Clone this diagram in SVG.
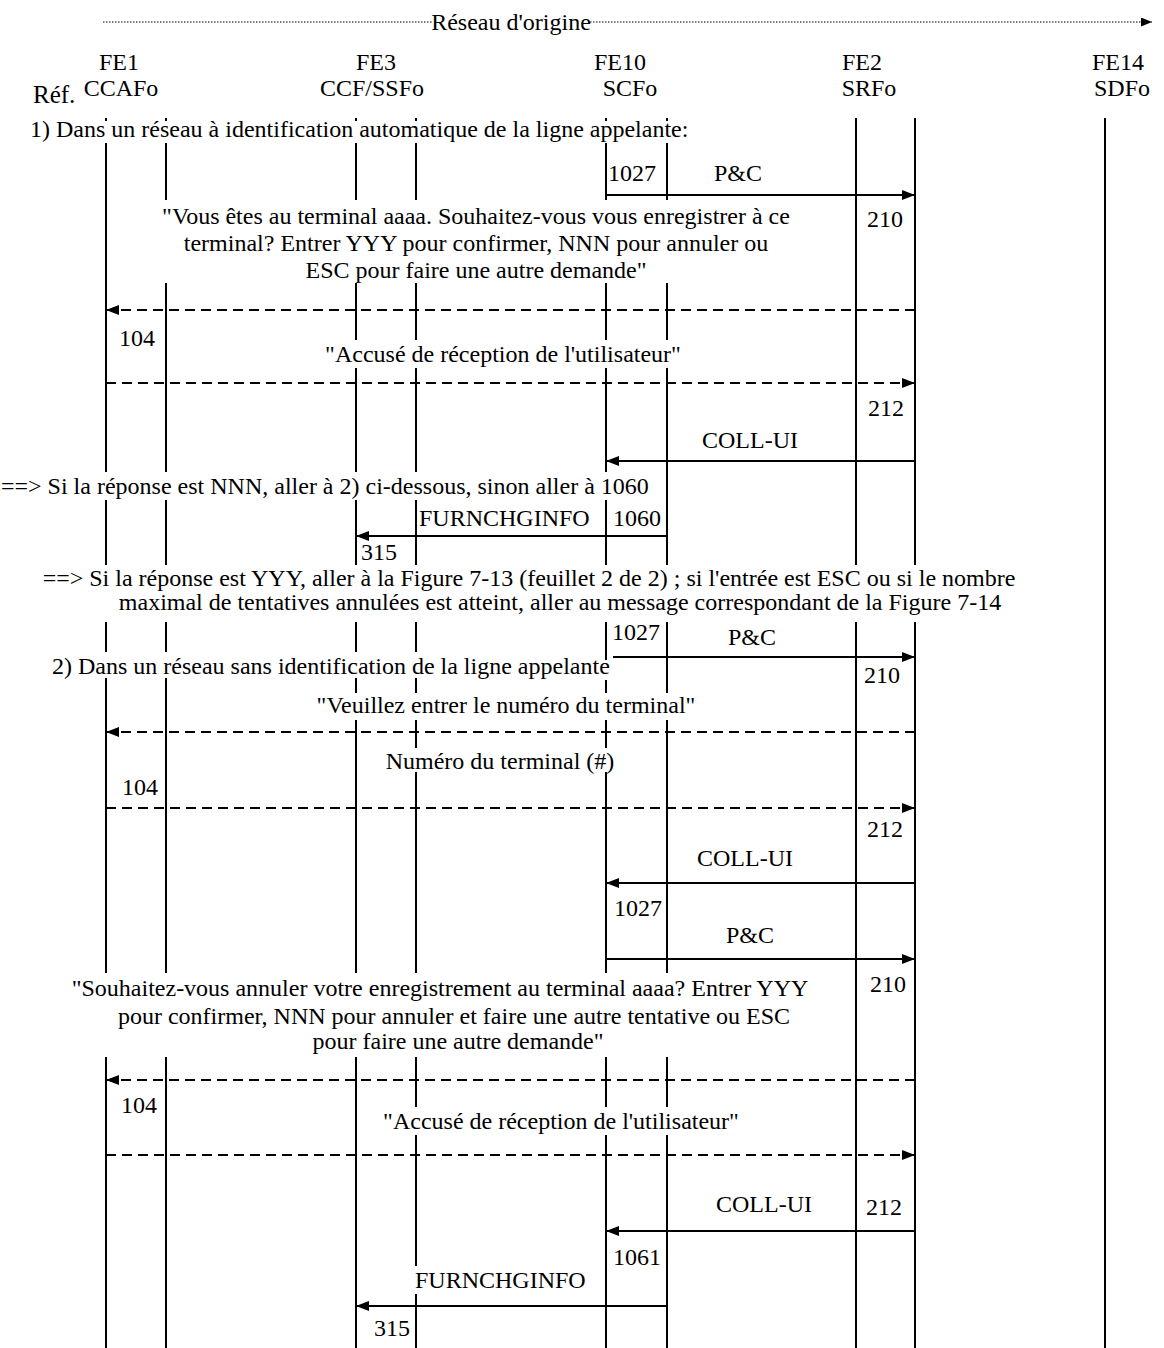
<svg xmlns="http://www.w3.org/2000/svg" width="1164" height="1348" viewBox="0 0 1164 1348">
<style>
text{font-family:"Liberation Serif","Times New Roman",serif;font-size:24px;fill:#000}
.m{text-anchor:middle}
.ll{stroke:#000;stroke-width:2;fill:none}
.msg{stroke:#000;stroke-width:2;fill:none;marker-end:url(#ah)}
.d{stroke-dasharray:10,6}
.dot{stroke:#000;stroke-width:1.2;stroke-dasharray:1.5,1.5;fill:none}
</style>
<defs>
<marker id="ah" markerUnits="userSpaceOnUse" markerWidth="14" markerHeight="12" refX="13" refY="5" orient="auto">
<path d="M0,0 L13,5 L0,10 z" fill="#000"/>
</marker>
<marker id="ahs" markerUnits="userSpaceOnUse" markerWidth="12" markerHeight="10" refX="11" refY="4.5" orient="auto">
<path d="M0,0 L11,4.5 L0,9 z" fill="#000"/>
</marker>
</defs>
<rect width="1164" height="1348" fill="#fff"/>
<g id="header">
<path class="dot" d="M103,22 H432"/>
<path class="dot" d="M590,22 H1152" marker-end="url(#ahs)"/>
<text class="m" x="511" y="30">Réseau d'origine</text>
<text x="33" y="103" style="font-size:25px">Réf.</text>
</g>
<g id="fe1"><text class="m" x="119" y="70">FE1</text><text class="m" x="121" y="96">CCAFo</text>
<path class="ll" d="M106,118V121M106,143V472M106,500V565M106,622V652M106,678V973M106,1057V1348M166,118V121M166,143V200M166,283V472M166,500V565M166,622V652M166,678V973M166,1057V1348"/></g>
<g id="fe3"><text class="m" x="376" y="70">FE3</text><text class="m" x="372" y="96">CCF/SSFo</text>
<path class="ll" d="M356,118V121M356,143V200M356,283V340M356,368V472M356,500V565M356,622V652M356,678V693M356,720V973M356,1057V1348M416,118V121M416,143V200M416,283V340M416,368V472M416,500V565M416,622V652M416,678V693M416,720V748M416,772V973M416,1057V1107M416,1135V1266M416,1294V1348"/></g>
<g id="fe10"><text class="m" x="620" y="70">FE10</text><text class="m" x="630" y="96">SCFo</text>
<path class="ll" d="M606,118V121M606,143V200M606,283V340M606,368V472M606,500V565M606,622V660M606,680V693M606,720V748M606,772V973M606,1057V1107M606,1135V1348M667,118V121M667,143V200M667,283V340M667,368V565M667,622V693M667,720V973M667,1057V1107M667,1135V1348"/></g>
<g id="fe2"><text class="m" x="862" y="70">FE2</text><text class="m" x="869" y="96">SRFo</text>
<path class="ll" d="M856,118V565M856,622V1348M915,118V565M915,622V1348"/></g>
<g id="fe14"><text class="m" x="1118" y="70">FE14</text><text class="m" x="1122" y="96">SDFo</text>
<path class="ll" d="M1105,118V1348"/></g>
<g id="connectors">
<path class="msg" d="M606,195H915"/>
<path class="msg d" d="M915,310H106"/>
<path class="msg d" d="M106,383H915"/>
<path class="msg" d="M915,461H606"/>
<path class="msg" d="M667,536H356"/>
<path class="msg" d="M613,657H915"/>
<path class="msg d" d="M915,732H106"/>
<path class="msg d" d="M106,808H915"/>
<path class="msg" d="M915,883H606"/>
<path class="msg" d="M606,959H915"/>
<path class="msg d" d="M915,1080H106"/>
<path class="msg d" d="M106,1155H915"/>
<path class="msg" d="M915,1231H606"/>
<path class="msg" d="M667,1306H356"/>
</g>
<g id="labels">
<text x="30" y="137">1) Dans un réseau à identification automatique de la ligne appelante:</text>
<text x="608" y="181">1027</text>
<text class="m" x="738" y="181">P&amp;C</text>
<text class="m" x="885" y="227">210</text>
<text class="m" x="476" y="224">"Vous êtes au terminal aaaa. Souhaitez-vous vous enregistrer à ce</text>
<text class="m" x="476" y="251">terminal? Entrer YYY pour confirmer, NNN pour annuler ou</text>
<text class="m" x="476" y="278">ESC pour faire une autre demande"</text>
<text class="m" x="137" y="346">104</text>
<text class="m" x="503" y="362">"Accusé de réception de l'utilisateur"</text>
<text class="m" x="886" y="416">212</text>
<text class="m" x="750" y="448">COLL-UI</text>
<text x="1" y="494">==&gt; Si la réponse est NNN, aller à 2) ci-dessous, sinon aller à 1060</text>
<text x="419" y="526">FURNCHGINFO</text>
<text x="613" y="526">1060</text>
<text x="361" y="560">315</text>
<text class="m" x="529" y="586">==&gt; Si la réponse est YYY, aller à la Figure 7-13 (feuillet 2 de 2) ; si l'entrée est ESC ou si le nombre</text>
<text class="m" x="560" y="610">maximal de tentatives annulées est atteint, aller au message correspondant de la Figure 7-14</text>
<text x="612" y="640">1027</text>
<text class="m" x="752" y="645">P&amp;C</text>
<text x="52" y="674">2) Dans un réseau sans identification de la ligne appelante</text>
<text class="m" x="882" y="683">210</text>
<text class="m" x="506" y="713">"Veuillez entrer le numéro du terminal"</text>
<text class="m" x="500" y="769">Numéro du terminal (#)</text>
<text class="m" x="140" y="795">104</text>
<text class="m" x="885" y="837">212</text>
<text class="m" x="745" y="866">COLL-UI</text>
<text x="614" y="916">1027</text>
<text class="m" x="750" y="943">P&amp;C</text>
<text class="m" x="888" y="992">210</text>
<text class="m" x="440" y="996">"Souhaitez-vous annuler votre enregistrement au terminal aaaa? Entrer YYY</text>
<text class="m" x="454" y="1024">pour confirmer, NNN pour annuler et faire une autre tentative ou ESC</text>
<text class="m" x="458" y="1049">pour faire une autre demande"</text>
<text class="m" x="139" y="1113">104</text>
<text class="m" x="561" y="1129">"Accusé de réception de l'utilisateur"</text>
<text class="m" x="764" y="1212">COLL-UI</text>
<text class="m" x="884" y="1215">212</text>
<text x="613" y="1265">1061</text>
<text x="415" y="1288">FURNCHGINFO</text>
<text class="m" x="392" y="1336">315</text>
</g>
</svg>
